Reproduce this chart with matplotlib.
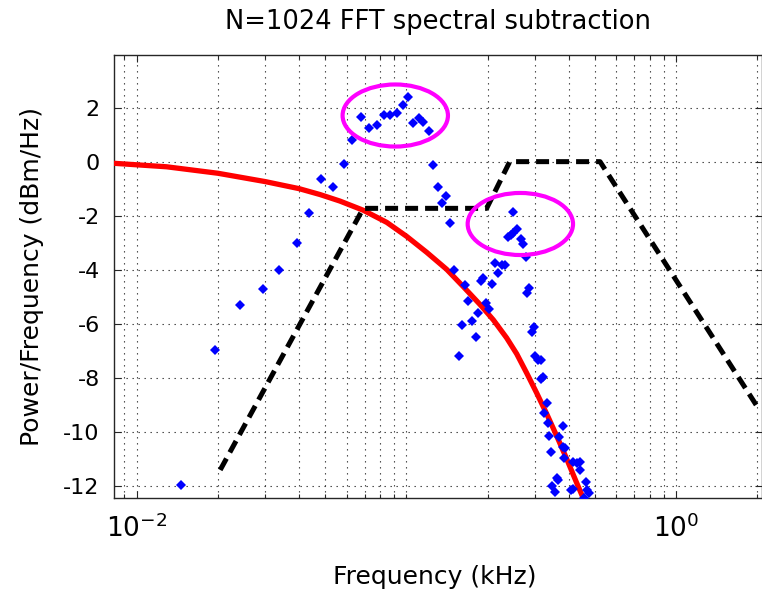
import numpy as np
import matplotlib
matplotlib.use("Agg")
import matplotlib.pyplot as plt
from matplotlib.patches import Ellipse
from matplotlib.ticker import NullFormatter

# frequency (kHz) / level (dBm/Hz)
red_freq = [0.0082, 0.0129, 0.020, 0.030, 0.040, 0.0479, 0.0567, 0.0692,
            0.0846, 0.1003, 0.119, 0.1411, 0.1626, 0.1875, 0.2101, 0.2355,
            0.2566, 0.2794, 0.3043, 0.3314, 0.3610, 0.3932, 0.4282, 0.4531,
            0.4799]
red_level = [-0.06, -0.19, -0.43, -0.74, -1.00, -1.22, -1.46, -1.80,
             -2.25, -2.77, -3.36, -3.99, -4.63, -5.29, -5.86, -6.53,
             -7.12, -7.83, -8.57, -9.34, -10.16, -11.01, -11.90, -12.47,
             -13.1]

mask_freq = [0.0204, 0.0692, 0.1985, 0.2418, 0.5226, 2.0]
mask_level = [-11.42, -1.73, -1.73, 0.0, 0.0, -9.07]

dots_freq = [0.0146, 0.0195, 0.0242, 0.0293, 0.0338, 0.0392, 0.0436, 0.0483,
             0.0533, 0.0587, 0.0631, 0.0679, 0.0727, 0.0781, 0.0829, 0.0870,
             0.0921, 0.0970, 0.1017, 0.1062, 0.1117, 0.1156, 0.1217, 0.1259,
             0.1307, 0.1404, 0.1353, 0.1452,
             0.2481, 0.2389, 0.2435, 0.2481, 0.2567, 0.2664, 0.2716, 0.2780,
             0.2133, 0.2258, 0.2323, 0.2183, 0.1507, 0.1930, 0.1892, 0.2085,
             0.2859, 0.2811, 0.1651, 0.1698, 0.1975, 0.2031, 0.1850, 0.1748,
             0.1605, 0.2977, 0.2918, 0.1809, 0.1568, 0.3002, 0.3072, 0.3160,
             0.3207, 0.3160, 0.3318, 0.3251, 0.3345, 0.3802, 0.3393, 0.3697,
             0.3802, 0.3878, 0.3432, 0.3855, 0.4141, 0.4285, 0.4408, 0.4408,
             0.3613, 0.3664, 0.4639, 0.3479, 0.3560, 0.4073, 0.4164, 0.4667,
             0.4771, 0.4560]
dots_level = [-11.97, -6.97, -5.32, -4.70, -4.02, -3.02, -1.89, -0.65,
              -0.95, -0.09, 0.80, 1.67, 1.26, 1.36, 1.73, 1.73,
              1.79, 2.10, 2.41, 1.42, 1.61, 1.48, 1.15, -0.12,
              -0.93, -1.27, -1.54, -2.26,
              -1.87, -2.78, -2.70, -2.63, -2.50, -2.87, -3.05, -3.52,
              -3.76, -3.83, -3.83, -4.13, -4.01, -4.32, -4.41, -4.54,
              -4.69, -4.87, -4.57, -5.16, -5.22, -5.47, -5.59, -5.90,
              -6.05, -6.11, -6.30, -6.48, -7.20, -7.20, -7.34, -7.34,
              -7.96, -8.05, -8.95, -9.32, -9.69, -9.78, -10.15, -10.19,
              -10.56, -10.61, -10.76, -10.99, -11.11, -11.15, -11.13, -11.42,
              -11.70, -11.81, -11.85, -12.01, -12.22, -12.18, -12.13, -12.18,
              -12.28, -12.45]

y_ticks = [2, 0, -2, -4, -6, -8, -10, -12]
x_major = [1e-2, 1e0]
x_labels = [r'$10^{-2}$', r'$10^{0}$']


def main():
    plt.rcParams['font.family'] = ['DejaVu Sans']
    plt.rcParams['mathtext.fontset'] = 'dejavusans'

    fig = plt.figure(figsize=(7.62, 5.94), dpi=100)
    ax = fig.add_axes([0.1491, 0.1611, 0.8509, 0.7463])

    ax.set_xscale('log')

    minor = [k * 10.0 ** e for e in range(-3, 1) for k in range(1, 10)]
    minor = [m for m in minor if m not in x_major]
    ax.set_xticks(x_major)
    ax.set_xticklabels(x_labels)
    ax.set_xticks(minor, minor=True)
    ax.xaxis.set_minor_formatter(NullFormatter())
    ax.set_yticks(y_ticks)
    ax.set_yticklabels([str(t) for t in y_ticks])
    # limits after the ticks, or set_xticks widens the view
    ax.set_xlim(0.00821, 2.084)
    ax.set_ylim(-12.47, 3.95)

    ax.grid(True, which='both', axis='x', color='0.2',
            linestyle=(0, (1.2, 4.2)), linewidth=0.8)
    ax.grid(True, which='major', axis='y', color='0.2',
            linestyle=(0, (1.2, 4.2)), linewidth=0.8)
    ax.set_axisbelow(True)

    ax.tick_params(which='both', direction='in', top=True, right=True,
                   colors='0.15', labelcolor='black')
    ax.tick_params(which='major', length=5, width=0.8)
    ax.tick_params(which='minor', length=3, width=0.8)
    ax.tick_params(axis='y', labelsize=16, pad=10)
    ax.tick_params(axis='x', labelsize=19, pad=12)
    for sp in ax.spines.values():
        sp.set_color('0.15')
        sp.set_linewidth(1.0)

    ax.plot(red_freq, red_level, color=(1, 0, 0), linewidth=3.8,
            solid_capstyle='butt', solid_joinstyle='round', zorder=3)
    ax.plot(mask_freq, mask_level, color='black', linewidth=3.6,
            linestyle=(0, (2.6, 1.4)), dash_capstyle='butt', zorder=4)
    ax.plot(dots_freq, dots_level, linestyle='none', marker='D',
            markersize=5, color=(0, 0, 1), markeredgewidth=0, zorder=5)

    for cx, cy in [(0.4344, 0.8635), (0.6273, 0.6188)]:
        ax.add_patch(Ellipse((cx, cy), 0.1625, 0.140, transform=ax.transAxes,
                             fill=False, edgecolor=(1, 0, 1), linewidth=3.0,
                             zorder=6))

    ax.set_title('N=1024 FFT spectral subtraction', fontsize=18.5, pad=19)
    ax.set_xlabel('Frequency (kHz)', fontsize=18)
    ax.set_ylabel('Power/Frequency (dBm/Hz)', fontsize=18)
    ax.xaxis.set_label_coords(0.495, -0.150)
    ax.yaxis.set_label_coords(-0.108, 0.5)

    fig.savefig('out.png', dpi=100)


if __name__ == "__main__":
    main()
